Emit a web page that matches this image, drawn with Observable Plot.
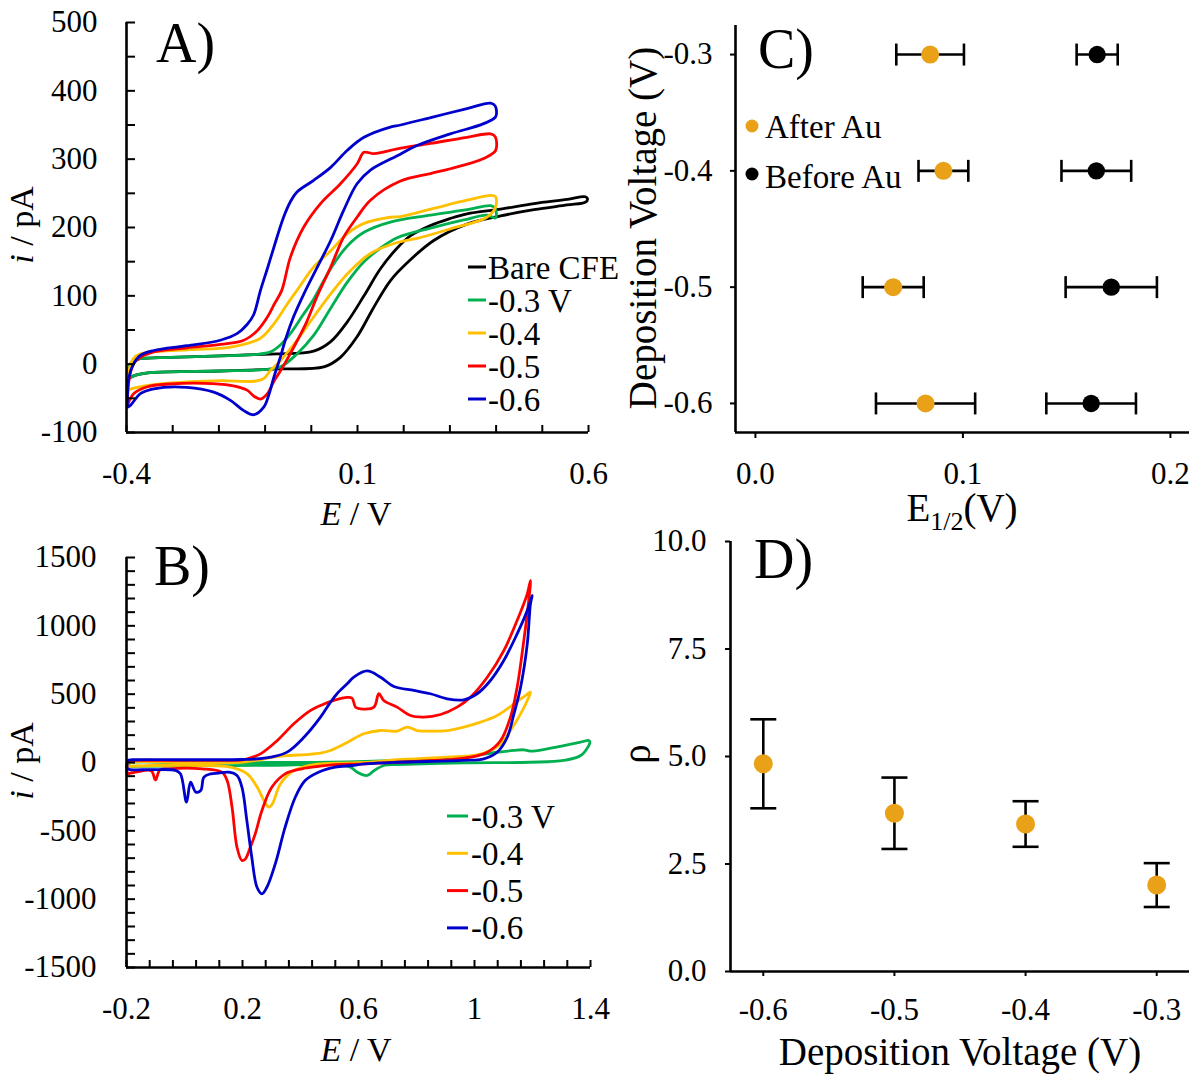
<!DOCTYPE html>
<html>
<head>
<meta charset="utf-8">
<script src="https://cdn.jsdelivr.net/npm/d3@7"></script>
<script src="https://cdn.jsdelivr.net/npm/@observablehq/plot@0.6"></script>
<style>
  body { margin: 0; background: #fff; }
  #fig { position: relative; width: 1200px; height: 1076px; overflow: hidden; background: #fff;
         font-family: "Liberation Serif", "Times New Roman", serif; }
  #fig svg { position: absolute; overflow: visible; }
  #fig svg text, #fig svg tspan { font-family: "Liberation Serif", "Times New Roman", serif !important; }
</style>
</head>
<body>
<div id="fig"></div>
<script>
// ---------------- Panel A data: CVs [E (V), i (pA)] ----------------
const aBare = [[-0.398,-22],[-0.395,-5],[-0.385,5],[-0.370,8],[-0.305,10],[-0.197,12],[-0.124,14],[-0.074,15],[0.005,19],[0.042,33],[0.078,62],[0.114,100],[0.150,140],[0.186,170],[0.215,188],[0.258,203],[0.300,213],[0.337,220],[0.410,227],[0.482,235],[0.554,241],[0.593,245],[0.598,241],
  [0.593,237],[0.554,233],[0.482,226],[0.410,217],[0.337,205],[0.265,181],[0.207,148],[0.171,122],[0.135,83],[0.099,40],[0.063,10],[0.027,-4],[-0.074,-7],[-0.104,-8],[-0.197,-10],[-0.341,-12],[-0.380,-16],[-0.398,-22]];
const aM03 = [[-0.398,-22],[-0.395,-5],[-0.385,5],[-0.370,8],[-0.305,10],[-0.197,12],[-0.124,14],[-0.088,18],[-0.067,28],[-0.045,45],[-0.020,70],[0.005,95],[0.042,140],[0.078,173],[0.114,193],[0.171,208],[0.258,218],[0.337,226],[0.388,232],[0.398,228],[0.399,214],
  [0.380,218],[0.330,211],[0.258,199],[0.186,185],[0.150,170],[0.114,150],[0.078,120],[0.042,82],[0.005,42],[-0.031,15],[-0.067,-4],[-0.104,-8],[-0.197,-10],[-0.341,-12],[-0.380,-16],[-0.398,-22]];
const aM04 = [[-0.398,-38],[-0.395,-10],[-0.385,8],[-0.370,15],[-0.269,21],[-0.175,25],[-0.110,38],[-0.081,59],[-0.052,88],[-0.031,108],[0.005,142],[0.042,166],[0.078,191],[0.114,206],[0.171,215],[0.193,216],[0.265,228],[0.337,240],[0.391,247],[0.399,245],[0.399,230],
  [0.380,215],[0.301,198],[0.229,184],[0.186,178],[0.128,162],[0.085,137],[0.042,103],[0.005,69],[-0.031,35],[-0.067,5],[-0.088,-9],[-0.103,-21],[-0.124,-25],[-0.197,-24],[-0.269,-26],[-0.341,-30],[-0.377,-34],[-0.398,-38]];
const aM05 = [[-0.398,-60],[-0.395,-25],[-0.385,0],[-0.370,10],[-0.341,18],[-0.269,24],[-0.197,29],[-0.146,35],[-0.117,49],[-0.095,69],[-0.080,88],[-0.064,108],[-0.045,157],[-0.016,201],[0.020,235],[0.063,264],[0.099,293],[0.114,310],[0.136,308],[0.186,315],[0.258,323],[0.337,332],[0.388,337],[0.398,333],[0.399,313],
  [0.373,301],[0.301,286],[0.258,279],[0.193,268],[0.128,240],[0.099,215],[0.070,186],[0.042,142],[0.013,100],[-0.010,62],[-0.030,35],[-0.050,10],[-0.067,-10],[-0.081,-25],[-0.095,-43],[-0.110,-51],[-0.124,-47],[-0.139,-38],[-0.175,-31],[-0.233,-28],[-0.305,-29],[-0.355,-33],[-0.384,-43],[-0.398,-60]];
const aM06 = [[-0.398,-63],[-0.395,-20],[-0.385,0],[-0.370,13],[-0.341,20],[-0.269,27],[-0.197,35],[-0.160,45],[-0.139,58],[-0.125,72],[-0.110,108],[-0.095,140],[-0.081,171],[-0.060,215],[-0.045,238],[-0.031,252],[0.005,269],[0.042,288],[0.078,313],[0.114,332],[0.171,347],[0.193,350],[0.265,362],[0.337,374],[0.388,382],[0.398,378],[0.399,362],
  [0.373,352],[0.301,337],[0.229,320],[0.186,305],[0.128,284],[0.099,264],[0.070,225],[0.042,181],[0.013,142],[-0.016,103],[-0.038,70],[-0.055,38],[-0.068,8],[-0.081,-19],[-0.092,-45],[-0.103,-63],[-0.124,-74],[-0.146,-68],[-0.175,-53],[-0.211,-41],[-0.269,-34],[-0.341,-36],[-0.370,-43],[-0.391,-60],[-0.398,-63]];

// ---------------- Panel B data ----------------
const bM03 = [[-0.198,-25],[-0.190,-5],[0.0,-3],[0.3,0],[0.503,2],[0.733,15],[0.850,28],[0.963,39],[1.078,75],[1.136,88],[1.170,93],[1.193,83],[1.251,100],[1.308,124],[1.366,149],[1.394,161],[1.398,150],
  [1.394,124],[1.366,51],[1.308,15],[1.193,2],[0.963,-3],[0.733,-15],[0.690,-20],[0.653,-60],[0.630,-95],[0.596,-71],[0.572,-34],[0.503,-15],[0.3,-20],[0.0,-25],[-0.198,-28]];
const bM04 = [[-0.198,-30],[-0.195,-5],[0.0,-2],[0.2,3],[0.26,20],[0.30,38],[0.354,51],[0.420,58],[0.469,68],[0.503,88],[0.561,147],[0.618,210],[0.676,234],[0.733,229],[0.768,259],[0.802,234],[0.848,229],[0.906,234],[0.963,259],[1.021,295],[1.078,344],[1.136,429],[1.176,490],[1.193,515],
  [1.187,478],[1.159,356],[1.124,234],[1.090,136],[1.055,88],[1.009,56],[0.906,39],[0.733,20],[0.641,2],[0.526,-5],[0.446,-15],[0.377,-59],[0.331,-156],[0.303,-303],[0.291,-327],[0.274,-278],[0.251,-181],[0.216,-83],[0.159,-34],[0.067,-22],[-0.105,-22],[-0.198,-29]];
const bM05 = [[-0.198,-80],[-0.195,10],[-0.18,15],[0.0,15],[0.2,20],[0.216,27],[0.262,63],[0.320,161],[0.377,283],[0.435,381],[0.469,417],[0.515,454],[0.561,476],[0.578,470],[0.590,405],[0.607,393],[0.653,405],[0.670,503],[0.687,454],[0.733,405],[0.779,344],[0.825,332],[0.883,351],[0.940,405],[0.986,478],[1.044,624],[1.101,819],[1.147,1039],[1.182,1234],[1.193,1331],
  [1.187,1185],[1.170,892],[1.147,551],[1.124,332],[1.090,161],[1.044,75],[0.986,39],[0.906,20],[0.733,2],[0.622,-10],[0.520,-15],[0.462,-29],[0.405,-46],[0.347,-83],[0.301,-181],[0.267,-351],[0.244,-522],[0.227,-620],[0.210,-705],[0.198,-717],[0.181,-620],[0.164,-327],[0.147,-132],[0.129,-71],[0.060,-46],[-0.054,-46],[-0.085,-55],[-0.100,-128],[-0.115,-60],[-0.169,-71],[-0.198,-83]];
const bM06 = [[-0.198,-40],[-0.195,15],[-0.18,20],[0.0,20],[0.2,22],[0.239,25],[0.297,39],[0.354,76],[0.412,185],[0.469,332],[0.503,440],[0.526,503],[0.561,576],[0.584,625],[0.630,670],[0.676,624],[0.722,556],[0.791,527],[0.848,503],[0.906,466],[0.963,459],[1.009,503],[1.055,600],[1.101,746],[1.147,941],[1.182,1112],[1.199,1222],
  [1.193,1161],[1.182,868],[1.159,551],[1.136,356],[1.113,185],[1.078,75],[1.032,27],[0.963,15],[0.733,2],[0.622,-10],[0.577,-22],[0.520,-34],[0.462,-71],[0.416,-132],[0.382,-254],[0.347,-473],[0.313,-742],[0.284,-913],[0.267,-961],[0.250,-913],[0.232,-693],[0.215,-425],[0.198,-181],[0.181,-95],[0.152,-71],[0.117,-78],[0.090,-83],[0.067,-107],[0.056,-205],[0.039,-217],[0.021,-144],[0.007,-290],[-0.014,-83],[-0.031,-58],[-0.111,-52],[-0.192,-50],[-0.198,-40]];

// ---------------- Panel C / D data ----------------
const depVoltage   = [-0.3, -0.4, -0.5, -0.6];
const afterAuE     = [0.0842, 0.0906, 0.0664, 0.0820];
const afterAuErr   = [0.0163, 0.0120, 0.0147, 0.0239];
const beforeAuE    = [0.1647, 0.1643, 0.1715, 0.1618];
const beforeAuErr  = [0.0099, 0.0168, 0.0220, 0.0216];
const rho          = [2.01, 3.43, 3.68, 4.83];
const rhoErr       = [0.51, 0.53, 0.83, 1.035];

// ---------------- tick values / labels ----------------
const aXLabels = [-0.4, 0.1, 0.6];
const aYLabels = [-100, 0, 100, 200, 300, 400, 500];
const bXLabels = [-0.2, 0.2, 0.6, 1, 1.4];
const bYLabels = [-1500, -1000, -500, 0, 500, 1000, 1500];
const cXLabels = [0.0, 0.1, 0.2];
const cYLabels = [-0.6, -0.5, -0.4, -0.3];
const dXLabels = [-0.6, -0.5, -0.4, -0.3];
const dYLabels = [0, 2.5, 5, 7.5, 10];
const aLegend = ["Bare CFE", "-0.3 V", "-0.4", "-0.5", "-0.6"];
const bLegend = ["-0.3 V", "-0.4", "-0.5", "-0.6"];

// ---------------- styling ----------------
const FONT = '"Liberation Serif", "Times New Roman", serif';
const C_BARE = "#000000", C_03 = "#00B050", C_04 = "#FFC000", C_05 = "#FF0000", C_06 = "#0000CC";
const ORANGE = "#E9A117";
const fig = document.getElementById("fig");
const fmtShort = d => String(Math.round(d * 100) / 100);
const fmt1 = d => d.toFixed(1);

const vbar = {draw(ctx, size) { const h = Math.sqrt(size / Math.PI); ctx.moveTo(0, -h); ctx.lineTo(0, h); }};
const hbar = {draw(ctx, size) { const h = Math.sqrt(size / Math.PI); ctx.moveTo(-h, 0); ctx.lineTo(h, 0); }};

function place(svg, left, top) {
  svg.style.position = "absolute";
  svg.style.left = left + "px";
  svg.style.top = top + "px";
  fig.appendChild(svg);
  const s = d3.select(svg);
  s.attr("font-family", FONT);
  return s;
}
function baseStyle() {
  return `font-family: ${FONT}; font-size: 31px; background: transparent; overflow: visible; color: black;`;
}
function text(sel, x, y, parts, o = {}) {
  const t = sel.append("text")
    .attr("x", o.rotate ? 0 : x).attr("y", o.rotate ? 0 : y)
    .attr("text-anchor", o.anchor || "start")
    .attr("dy", o.dy === undefined ? "0.35em" : o.dy)
    .style("font-family", FONT).style("font-size", (o.size || 30) + "px")
    .attr("fill", "black");
  if (o.rotate) t.attr("transform", `translate(${x},${y}) rotate(-90)`);
  for (const p of parts) {
    const s = t.append("tspan").text(p.t);
    if (p.italic) s.style("font-style", "italic");
    if (p.size) s.style("font-size", p.size + "px");
    if (p.dy) s.attr("dy", p.dy);
  }
  return t;
}
const axText = {fontFamily: FONT, fontSize: 31};

function cvPlot(cfg) {
  return Plot.plot({
    width: cfg.width, height: cfg.height,
    marginTop: cfg.mt, marginRight: cfg.mr, marginBottom: cfg.mb, marginLeft: cfg.ml,
    x: {domain: cfg.xDomain, label: null},
    y: {domain: cfg.yDomain, label: null},
    style: baseStyle(),
    marks: [
      ...cfg.curves.map(c => Plot.line(c.data, {x: d => d[0], y: d => d[1], stroke: c.color, strokeWidth: 2.8, curve: "catmull-rom"})),
      Plot.ruleX([cfg.xDomain[0]], {strokeWidth: 2.6}),
      Plot.ruleY([cfg.yDomain[0]], {strokeWidth: 2.6}),
      Plot.axisX({ticks: cfg.xMinor, tickSize: 7, dy: -7, tickFormat: () => "", label: null, strokeWidth: 2}),
      Plot.axisY({ticks: cfg.yMinor, tickSize: 9, dx: 9, tickFormat: () => "", label: null, strokeWidth: 2}),
      Plot.axisX({ticks: cfg.xLabels, tickSize: 0, tickPadding: 29, tickFormat: fmtShort, label: null, ...axText}),
      Plot.axisY({ticks: cfg.yLabels, tickSize: 0, tickPadding: cfg.ypad, tickFormat: d => String(d), label: null, ...axText})
    ]
  });
}

// ---------------- Panel A ----------------
{
  const svg = cvPlot({
    width: 620, height: 540, mt: 22, mr: 32, mb: 108, ml: 126,
    xDomain: [-0.4, 0.6], yDomain: [-100, 500],
    xMinor: d3.range(-4, 7).map(k => k / 10), yMinor: d3.range(-100, 501, 50),
    xLabels: aXLabels, yLabels: aYLabels, ypad: 29,
    curves: [{data: aBare, color: C_BARE}, {data: aM03, color: C_03}, {data: aM04, color: C_04}, {data: aM05, color: C_05}, {data: aM06, color: C_06}]
  });
  const s = place(svg, 0, 0);
  text(s, 156, 62, [{t: "A)"}], {size: 56, dy: 0});
  text(s, 21, 225, [{t: "i", italic: true}, {t: " / pA"}], {rotate: true, anchor: "middle", size: 34});
  text(s, 356, 513, [{t: "E", italic: true}, {t: " / V"}], {anchor: "middle", size: 34});
  const cols = [C_BARE, C_03, C_04, C_05, C_06];
  aLegend.forEach((lab, k) => {
    const y = 267 + k * 33;
    s.append("line").attr("x1", 468).attr("x2", 486).attr("y1", y).attr("y2", y).attr("stroke", cols[k]).attr("stroke-width", 3);
    text(s, 488, y, [{t: lab}], {size: 33});
  });
}

// ---------------- Panel B ----------------
{
  const svg = cvPlot({
    width: 620, height: 536, mt: 17, mr: 30, mb: 109, ml: 126,
    xDomain: [-0.2, 1.4], yDomain: [-1500, 1500],
    xMinor: d3.range(0, 21).map(k => -0.2 + k * 0.08), yMinor: d3.range(-1500, 1501, 100),
    xLabels: bXLabels, yLabels: bYLabels, ypad: 30,
    curves: [{data: bM03, color: C_03}, {data: bM04, color: C_04}, {data: bM05, color: C_05}, {data: bM06, color: C_06}]
  });
  const s = place(svg, 0, 540);
  text(s, 154, 45, [{t: "B)"}], {size: 56, dy: 0});
  text(s, 21, 221, [{t: "i", italic: true}, {t: " / pA"}], {rotate: true, anchor: "middle", size: 34});
  text(s, 356, 509, [{t: "E", italic: true}, {t: " / V"}], {anchor: "middle", size: 34});
  const cols = [C_03, C_04, C_05, C_06];
  bLegend.forEach((lab, k) => {
    const y = 276 + k * 37.3;
    s.append("line").attr("x1", 447).attr("x2", 468).attr("y1", y).attr("y2", y).attr("stroke", cols[k]).attr("stroke-width", 3);
    text(s, 471, y, [{t: lab}], {size: 33});
  });
}

// ---------------- Panel C ----------------
{
  const after = depVoltage.map((v, k) => ({dep: v, e: afterAuE[k], lo: afterAuE[k] - afterAuErr[k], hi: afterAuE[k] + afterAuErr[k]}));
  const before = depVoltage.map((v, k) => ({dep: v, e: beforeAuE[k], lo: beforeAuE[k] - beforeAuErr[k], hi: beforeAuE[k] + beforeAuErr[k]}));
  const xDomain = [-0.0096, 0.2092], yDomain = [-0.625, -0.275];
  const svg = Plot.plot({
    width: 600, height: 540, marginTop: 25, marginRight: 11, marginBottom: 108, marginLeft: 135,
    x: {domain: xDomain, label: null}, y: {domain: yDomain, label: null},
    style: baseStyle(),
    marks: [
      Plot.ruleX([xDomain[0]], {strokeWidth: 2.6}),
      Plot.ruleY([yDomain[0]], {strokeWidth: 2.6}),
      Plot.axisX({ticks: cXLabels, tickSize: 6, tickPadding: 23, tickFormat: fmt1, label: null, strokeWidth: 2, ...axText}),
      Plot.axisY({ticks: cYLabels, tickSize: 5, tickPadding: 18, tickFormat: fmt1, label: null, strokeWidth: 2, ...axText}),
      ...[after, before].flatMap(set => [
        Plot.ruleY(set, {y: "dep", x1: "lo", x2: "hi", strokeWidth: 2.6}),
        Plot.dot(set, {x: "lo", y: "dep", symbol: vbar, r: 11, stroke: "black", fill: "none", strokeWidth: 2.6}),
        Plot.dot(set, {x: "hi", y: "dep", symbol: vbar, r: 11, stroke: "black", fill: "none", strokeWidth: 2.6})
      ]),
      Plot.dot(after, {x: "e", y: "dep", r: 9, fill: ORANGE, stroke: "none"}),
      Plot.dot(before, {x: "e", y: "dep", r: 8.7, fill: "black", stroke: "none"})
    ]
  });
  const s = place(svg, 600, 0);
  text(s, 158, 68, [{t: "C)"}], {size: 56, dy: 0});
  text(s, 42, 228, [{t: "Deposition Voltage (V)"}], {rotate: true, anchor: "middle", size: 39});
  text(s, 362, 521, [{t: "E"}, {t: "1/2", size: 26, dy: "9"}, {t: "(V)", dy: "-9"}], {anchor: "middle", size: 39, dy: 0});
  s.append("circle").attr("cx", 152).attr("cy", 126).attr("r", 6.5).attr("fill", ORANGE);
  text(s, 165, 126, [{t: "After Au"}], {size: 33});
  s.append("circle").attr("cx", 152).attr("cy", 174).attr("r", 6.5).attr("fill", "black");
  text(s, 165, 176, [{t: "Before Au"}], {size: 33});
}

// ---------------- Panel D ----------------
{
  const pts = depVoltage.map((v, k) => ({dep: v, r: rho[k], lo: rho[k] - rhoErr[k], hi: rho[k] + rhoErr[k]}));
  const xDomain = [-0.625, -0.275], yDomain = [0, 10];
  const svg = Plot.plot({
    width: 600, height: 536, marginTop: 1, marginRight: 11, marginBottom: 105, marginLeft: 130,
    x: {domain: xDomain, label: null}, y: {domain: yDomain, label: null},
    style: baseStyle(),
    marks: [
      Plot.ruleX([xDomain[0]], {strokeWidth: 2.6}),
      Plot.ruleY([yDomain[0]], {strokeWidth: 2.6}),
      Plot.axisX({ticks: dXLabels, tickSize: 5, tickPadding: 21, tickFormat: fmt1, label: null, strokeWidth: 2, ...axText}),
      Plot.axisY({ticks: dYLabels, tickSize: 5, tickPadding: 19, tickFormat: fmt1, label: null, strokeWidth: 2, ...axText}),
      Plot.ruleX(pts, {x: "dep", y1: "lo", y2: "hi", strokeWidth: 2.6}),
      Plot.dot(pts, {x: "dep", y: "lo", symbol: hbar, r: 13, stroke: "black", fill: "none", strokeWidth: 2.6}),
      Plot.dot(pts, {x: "dep", y: "hi", symbol: hbar, r: 13, stroke: "black", fill: "none", strokeWidth: 2.6}),
      Plot.dot(pts, {x: "dep", y: "r", r: 9.5, fill: ORANGE, stroke: "none"})
    ]
  });
  const s = place(svg, 600, 540);
  text(s, 154, 38, [{t: "D)"}], {size: 56, dy: 0});
  text(s, 36, 214, [{t: "ρ"}], {rotate: true, anchor: "middle", size: 39});
  text(s, 360, 511, [{t: "Deposition Voltage (V)"}], {anchor: "middle", size: 39});
}
</script>
</body>
</html>
